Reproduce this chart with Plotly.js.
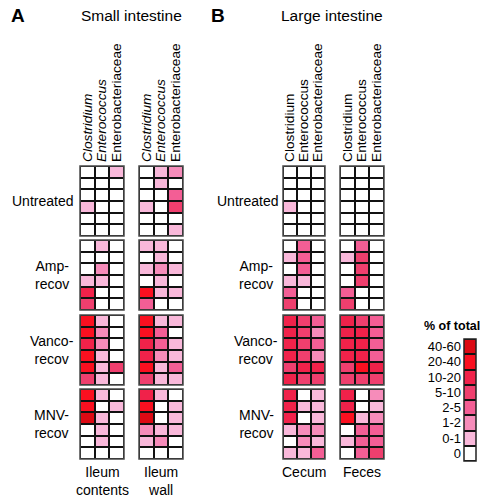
<!DOCTYPE html>
<html><head><meta charset="utf-8">
<script src="https://cdn.plot.ly/plotly-3.0.1.min.js"></script>
<style>html,body{margin:0;padding:0;background:#fff}</style>
</head><body><div id="chart" style="width:496px;height:503px"></div>
<script>
const taxa = ['Clostridium','Enterococcus','Enterobacteriaceae'];
const taxaItalic = ['<i>Clostridium</i>','<i>Enterococcus</i>','Enterobacteriaceae'];
const groups = ['Untreated','Amp-<br>recov','Vanco-<br>recov','MNV-<br>recov'];
const sites = ['Ileum<br>contents','Ileum<br>wall','Cecum','Feces'];
const levels = ['0','0-1','1-2','2-5','5-10','10-20','20-40','40-60'];
const levelColors = ['#ffffff','#f9b8da','#f68cba','#f35e95','#ef3f6e','#f0224a','#fa1020','#dc0a14'];
const micePerGroup = 6;

// level index (0..7) for each mouse (row) and taxon (column), groups stacked in order
const ileumContents = [
  [0,0,1],[0,0,0],[0,0,0],[1,0,0],[0,0,0],[0,0,0],
  [0,1,0],[0,0,0],[0,2,0],[1,1,0],[5,0,0],[4,0,0],
  [6,1,0],[6,2,0],[5,2,0],[6,1,0],[6,1,4],[4,1,0],
  [6,1,0],[6,0,1],[7,1,0],[0,1,0],[0,1,0],[0,0,0]
];
const ileumWall = [
  [0,1,2],[0,1,0],[0,0,3],[1,0,4],[0,0,0],[0,0,1],
  [1,1,0],[0,1,0],[1,2,1],[0,1,0],[6,1,1],[3,0,0],
  [6,1,1],[6,3,0],[5,3,1],[5,2,1],[6,1,3],[4,1,1],
  [5,1,0],[6,0,1],[7,0,1],[2,1,1],[1,2,0],[0,0,0]
];
const cecum = [
  [0,0,0],[0,0,0],[0,0,0],[1,0,0],[0,0,0],[0,0,0],
  [0,3,0],[1,3,0],[0,3,0],[1,1,0],[3,0,0],[4,0,0],
  [5,4,3],[5,4,2],[5,4,3],[5,4,2],[4,5,5],[5,4,4],
  [5,0,1],[5,1,1],[5,0,1],[1,2,2],[0,2,1],[1,1,3]
];
const feces = [
  [0,0,0],[0,0,0],[0,0,0],[0,0,0],[0,0,0],[0,0,0],
  [0,3,0],[1,4,0],[0,4,0],[0,4,0],[3,0,0],[4,0,0],
  [5,4,3],[5,5,3],[5,5,3],[5,5,3],[4,6,5],[4,4,4],
  [5,0,2],[5,0,1],[6,1,2],[0,3,3],[1,3,3],[0,3,4]
];
const siteData = [ileumContents, ileumWall, cecum, feces];

// ---- layout geometry (pixels) ----
const W = 496, H = 503;
const FONT = 'Liberation Sans, Arial, Helvetica, sans-serif';
const px = v => v / W;
const py = v => 1 - v / H;
const siteX = [[80,124],[139,183],[283,325],[340,384]];
const groupY = [[166,236],[240,310],[315,385],[389,459]];
const legX = [464,476], legY = [339,461];

const n = levels.length;
const colorscale = [];
levelColors.forEach((c,k) => { colorscale.push([k/n, c]); colorscale.push([(k+1)/n, c]); });

const axName = (p, i) => i === 0 ? p : p + (i+1);
const axKey = (p, i) => i === 0 ? p + 'axis' : p + 'axis' + (i+1);

const traces = [];
const layout = {
  width: W, height: H,
  margin: {l:0, r:0, t:0, b:0},
  paper_bgcolor: '#ffffff',
  plot_bgcolor: '#111111',
  font: {family: FONT, size: 14, color: '#000'},
  showlegend: false,
  shapes: [], annotations: []
};

siteData.forEach((data, s) => {
  groups.forEach((g, gi) => {
    const z = data.slice(gi*micePerGroup, (gi+1)*micePerGroup);
    traces.push({
      type: 'heatmap',
      x: [0,1,2], y: z.map((_, r) => r), z: z,
      xaxis: axName('x', s), yaxis: axName('y', gi),
      colorscale: colorscale, zmin: -0.5, zmax: n - 0.5,
      showscale: false, xgap: 2, ygap: 2, hoverinfo: 'skip'
    });
    layout.shapes.push({
      type: 'rect', xref: axName('x', s) + ' domain', yref: axName('y', gi) + ' domain',
      x0: 0, x1: 1, y0: 0, y1: 1, line: {color: '#4a4a4a', width: 1.5}, layer: 'above'
    });
  });
  layout[axKey('x', s)] = {
    domain: [px(siteX[s][0]), px(siteX[s][1])],
    anchor: 'y', side: 'top', range: [-0.5, 2.5],
    tickvals: [0,1,2], ticktext: s < 2 ? taxaItalic : taxa,
    tickangle: -90, ticks: '', ticklabelstandoff: 3,
    tickfont: {family: FONT, size: 13.7, color: '#000'},
    showgrid: false, zeroline: false, showline: false, fixedrange: true
  };
  layout.annotations.push({
    text: sites[s], xref: axName('x', s) + ' domain', x: 0.5, xanchor: 'center',
    yref: 'paper', y: py(462), yanchor: 'top', showarrow: false,
    font: {family: FONT, size: 14, color: '#000'}
  });
});

groups.forEach((g, gi) => {
  layout[axKey('y', gi)] = {
    domain: [py(groupY[gi][1]), py(groupY[gi][0])],
    anchor: 'x', range: [micePerGroup - 0.5, -0.5],
    showticklabels: false, ticks: '', showgrid: false, zeroline: false, fixedrange: true
  };
  const xs = gi === 0 ? [42.5, 247] : [51.5, 256];
  xs.forEach(xc => layout.annotations.push({
    text: g, xref: 'paper', x: px(xc), xanchor: 'center',
    yref: axName('y', gi) + ' domain', y: 0.5, yanchor: 'middle', showarrow: false,
    font: {family: FONT, size: 14, color: '#000'}
  }));
});

// legend as a one-column heatmap
traces.push({
  type: 'heatmap', x: [0], y: levels.map((_, k) => k), z: levels.map((_, k) => [k]),
  xaxis: 'x5', yaxis: 'y5', colorscale: colorscale, zmin: -0.5, zmax: n - 0.5,
  showscale: false, xgap: 0, ygap: 2, hoverinfo: 'skip'
});
layout.xaxis5 = {domain: [px(legX[0]), px(legX[1])], anchor: 'y5', range: [-0.5, 0.5],
  showticklabels: false, ticks: '', showgrid: false, zeroline: false, fixedrange: true};
layout.yaxis5 = {domain: [py(legY[1]), py(legY[0])], anchor: 'x5', range: [-0.5, n - 0.5],
  tickvals: levels.map((_, k) => k), ticktext: levels, ticks: '', ticklabelstandoff: 2,
  tickfont: {family: FONT, size: 13, color: '#000'},
  showgrid: false, zeroline: false, fixedrange: true};
layout.shapes.push({type: 'rect', xref: 'x5 domain', yref: 'y5 domain', x0: 0, x1: 1, y0: 0, y1: 1,
  line: {color: '#222', width: 1.5}, layer: 'above'});
layout.annotations.push({text: '<b>% of total</b>', xref: 'paper', yref: 'paper',
  x: px(452), y: py(326), xanchor: 'center', yanchor: 'middle', showarrow: false,
  font: {family: FONT, size: 12.5, color: '#000'}});

// panel titles
[['<b>A</b>', 18, 19], ['Small intestine', 131, 15.5], ['<b>B</b>', 218, 19], ['Large intestine', 332, 15.5]]
  .forEach(([t, xc, fs]) => layout.annotations.push({text: t, xref: 'paper', yref: 'paper',
    x: px(xc), y: py(16), xanchor: 'center', yanchor: 'middle', showarrow: false,
    font: {family: FONT, size: fs, color: '#000'}}));

Plotly.newPlot('chart', traces, layout, {displayModeBar: false, staticPlot: true});
</script></body></html>
